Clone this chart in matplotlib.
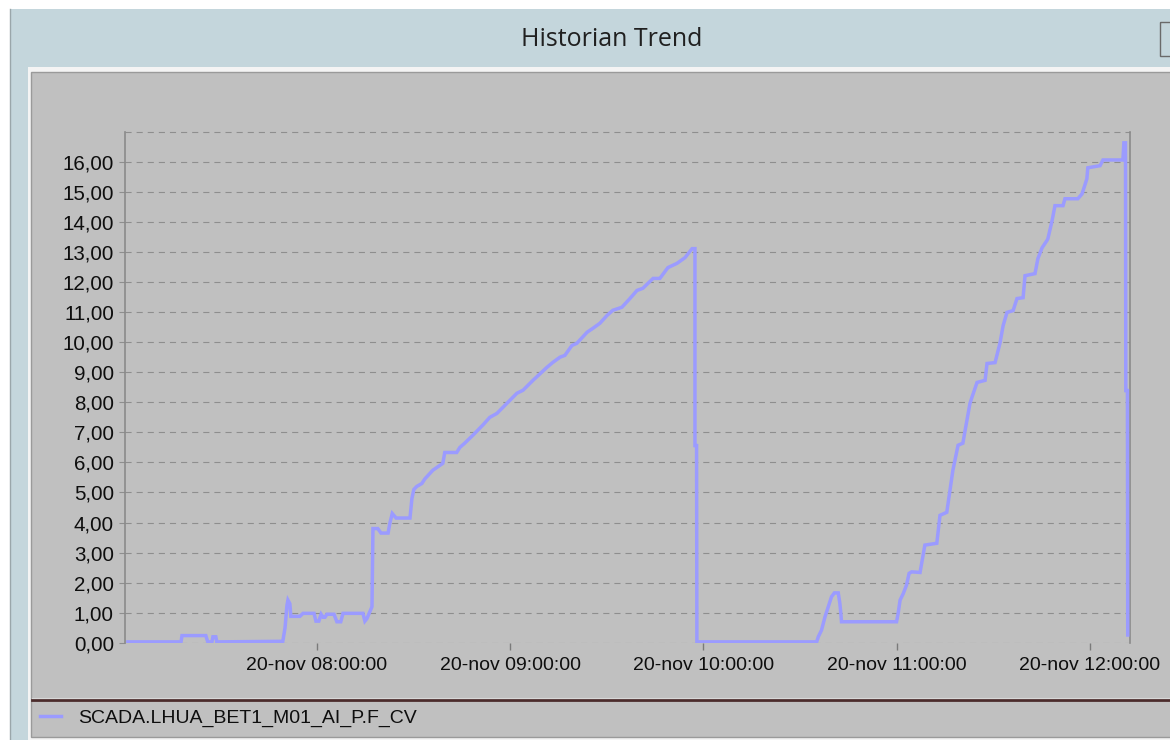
import pandas as pd
import matplotlib
matplotlib.use('Agg')
import matplotlib.pyplot as plt
import matplotlib.dates as mdates
import matplotlib.ticker as mticker
from matplotlib.patches import Rectangle

plt.rcParams.update({
    'font.family': ['Liberation Sans', 'DejaVu Sans'],
    'font.size': 14,
})

W, H = 1170, 740
PANEL = '#c0c0c0'
TITLEBAR = '#c4d6dc'
LINE_COL = '#9b9bff'
GRID_COL = '#8e8e8e'
TXT = '#0e0e0e'
FS = 14

SERIES_NAME = 'SCADA.LHUA_BET1_M01_AI_P.F_CV'
START = pd.Timestamp('2023-11-20 07:00:00')

T_MIN = [1.3, 17.8, 18.1, 25.5, 26.1, 27.4, 27.7, 28.6, 28.9, 49.4,
         50.1, 50.7, 51.0, 51.6, 51.9, 54.7, 55.7, 59.1, 59.7, 60.6,
         61.3, 61.9, 62.5, 63.1, 65.3, 66.2, 67.4, 68.1, 74.3, 74.9,
         75.5, 76.5, 77.1, 77.4, 78.9, 79.9, 82.1, 82.7, 83.4, 84.6,
         88.9, 89.5, 90.1, 91.0, 92.6, 93.5, 96.0, 99.1, 99.7, 103.4,
         104.4, 105.9, 108.4, 111.5, 113.7, 115.9, 119.9, 122.1, 124.0, 127.1,
         131.4, 133.3, 135.5, 137.0, 139.2, 140.7, 143.9, 145.7, 147.9, 150.1,
         151.9, 154.7, 157.2, 159.4, 161.2, 164.4, 166.5, 169.0, 171.8, 174.3,
         176.5, 177.4, 177.4, 177.9, 178.0, 215.2, 215.7, 216.7, 217.8, 218.8,
         219.8, 220.7, 221.9, 222.4, 222.7, 222.9, 240.0, 240.5, 241.1, 242.1,
         243.1, 243.9, 244.7, 247.3, 248.8, 252.5, 253.5, 255.6, 256.6, 257.5,
         259.1, 260.6, 261.3, 262.8, 263.4, 265.0, 267.5, 268.1, 270.6, 272.1,
         273.1, 274.3, 276.2, 277.4, 279.3, 279.9, 283.0, 283.9, 285.2, 286.7,
         287.0, 288.3, 289.2, 291.7, 292.3, 296.3, 297.6, 299.1, 299.4, 303.2,
         304.1, 310.3, 310.6, 311.1, 311.2, 311.7, 311.8]
VALUES = [0.03, 0.03, 0.24, 0.24, 0.03, 0.03, 0.20, 0.20, 0.03, 0.05,
          0.50, 1.25, 1.42, 1.30, 0.88, 0.88, 0.98, 0.98, 0.72, 0.72,
          0.95, 0.85, 0.85, 0.95, 0.95, 0.70, 0.70, 0.98, 0.98, 0.72,
          0.80, 1.05, 1.20, 3.80, 3.80, 3.65, 3.65, 4.00, 4.30, 4.15,
          4.15, 4.80, 5.10, 5.20, 5.30, 5.45, 5.74, 5.97, 6.33, 6.33,
          6.50, 6.64, 6.90, 7.24, 7.50, 7.63, 8.06, 8.30, 8.40, 8.73,
          9.16, 9.33, 9.50, 9.56, 9.89, 9.96, 10.33, 10.46, 10.63, 10.89,
          11.06, 11.16, 11.45, 11.72, 11.79, 12.12, 12.12, 12.48, 12.62, 12.81,
          13.11, 13.11, 6.56, 6.56, 0.03, 0.03, 0.20, 0.42, 0.87, 1.20,
          1.53, 1.66, 1.66, 1.31, 0.98, 0.70, 0.70, 0.98, 1.42, 1.64,
          1.92, 2.31, 2.36, 2.34, 3.25, 3.31, 4.24, 4.34, 5.07, 5.74,
          6.57, 6.64, 7.07, 7.96, 8.16, 8.66, 8.73, 9.29, 9.32, 9.96,
          10.55, 10.99, 11.05, 11.45, 11.48, 12.21, 12.28, 12.78, 13.14, 13.38,
          13.44, 14.04, 14.54, 14.54, 14.77, 14.77, 14.93, 15.43, 15.80, 15.87,
          16.06, 16.06, 16.63, 16.63, 8.39, 8.39, 0.26]

Y_TICKS = list(range(0, 17))
Y_MAX = 17
X_START_MIN, X_END_MIN = 0.4, 312.5

times = START + pd.to_timedelta(T_MIN, unit='min')

fig = plt.figure(figsize=(W / 100, H / 100), dpi=100, facecolor='white')

# --- window chrome, drawn in pixel coords ---
bg = fig.add_axes([0, 0, 1, 1])
bg.set_xlim(0, W)
bg.set_ylim(H, 0)
bg.axis('off')
bg.add_patch(Rectangle((10, 9), W - 10, 58, fc=TITLEBAR, ec='none'))
bg.add_patch(Rectangle((10, 9), 18, H, fc=TITLEBAR, ec='none'))
bg.plot([10, 10], [9, H], color='#9aa6aa', lw=1)
bg.add_patch(Rectangle((28, 67), W, H, fc='#f4f4f4', ec='none'))
bg.add_patch(Rectangle((31, 72), W, H - 75, fc=PANEL, ec='#9a9a9a', lw=1))
bg.add_patch(Rectangle((1160, 22), 30, 34, fc='none', ec='#6a6a6a', lw=1))
bg.plot([32, W], [700, 700], color='#4b2b2b', lw=2)
bg.plot([32, W], [697.5, 697.5], color='#d8d8d8', lw=0.8)
bg.text(612, 39, 'Historian Trend', ha='center', va='center',
        fontsize=18, color='#202020', family=['Open Sans', 'DejaVu Sans'])

# --- trend area ---
L, R, T, B = 125, 1130, 131.7, 642.8
ax = fig.add_axes([L / W, 1 - B / H, (R - L) / W, (B - T) / H])
ax.set_facecolor(PANEL)

ax.plot(times, VALUES, color=LINE_COL, lw=2.5, solid_joinstyle='miter',
        label=SERIES_NAME, zorder=4)

ax.set_xlim(START + pd.Timedelta(minutes=X_START_MIN),
            START + pd.Timedelta(minutes=X_END_MIN))
ax.set_ylim(0, Y_MAX)
ax.set_yticks(Y_TICKS)
ax.yaxis.set_major_formatter(
    mticker.FuncFormatter(lambda v, p: f'{v:.2f}'.replace('.', ',')))
ax.xaxis.set_major_locator(mdates.HourLocator())
ax.xaxis.set_major_formatter(mdates.DateFormatter('%d-nov %H:%M:%S'))

ax.grid(axis='y', color=GRID_COL, lw=0.8, ls=(0, (5.5, 4.5)))
ax.axhline(Y_MAX, color=GRID_COL, lw=0.8, ls=(0, (5.5, 4.5)), clip_on=False)
ax.set_axisbelow(True)

for s in ['top', 'bottom']:
    ax.spines[s].set_visible(False)
for s in ['left', 'right']:
    ax.spines[s].set_color('#8a8a8a')
    ax.spines[s].set_linewidth(1.2)

ax.tick_params(axis='x', length=5, width=1, color='#7a7a7a', pad=5,
               labelcolor=TXT, labelsize=FS)
ax.tick_params(axis='y', length=4, width=0.8, color='#8e8e8e', pad=4,
               labelcolor=TXT, labelsize=FS + 0.8)

ax.legend(loc='center left', bbox_to_anchor=(40 / W, 1 - 718 / H),
          bbox_transform=fig.transFigure, frameon=False, borderpad=0,
          borderaxespad=0, handlelength=1.1, handletextpad=0.85,
          fontsize=FS, labelcolor=TXT)

fig.savefig('out.png', dpi=100, facecolor='white')
